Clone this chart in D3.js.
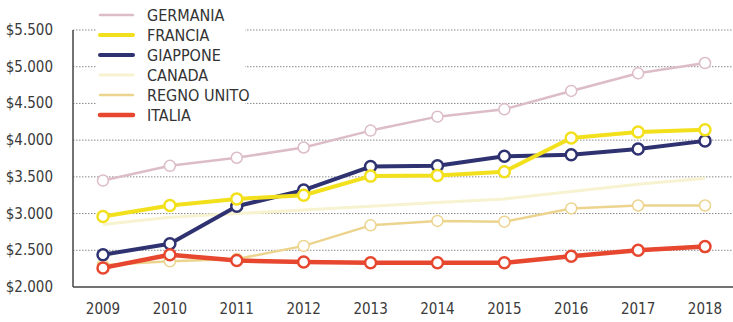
<!DOCTYPE html>
<html>
<head>
<meta charset="utf-8">
<script src="https://cdn.jsdelivr.net/npm/d3@7"></script>
<style>
  body { margin: 0; background: #fff; }
  #chart { width: 733px; height: 322px; }
</style>
</head>
<body>
<div id="chart"></div>
<script>
// Years on the x axis
const years = [2009, 2010, 2011, 2012, 2013, 2014, 2015, 2016, 2017, 2018];

// Values per country
const germania   = [3450, 3650, 3760, 3900, 4130, 4320, 4420, 4670, 4910, 5050];
const francia    = [2960, 3110, 3200, 3250, 3510, 3520, 3570, 4030, 4110, 4140];
const giappone   = [2440, 2590, 3100, 3320, 3640, 3650, 3780, 3800, 3880, 3990];
const canada     = [2850, 2950, 3000, 3050, 3100, 3150, 3200, 3300, 3400, 3480];
const regnoUnito = [2300, 2350, 2380, 2560, 2840, 2900, 2890, 3070, 3110, 3110];
const italia     = [2260, 2440, 2360, 2340, 2330, 2330, 2330, 2420, 2500, 2550];

const seriesNames = ["GERMANIA", "FRANCIA", "GIAPPONE", "CANADA", "REGNO UNITO", "ITALIA"];
const tickValues = [2000, 2500, 3000, 3500, 4000, 4500, 5000, 5500];

const width = 733;
const height = 322;
const margin = {left: 73, right: 0, top: 30, bottom: 35};

// Styles for each series (line colour, width, whether circles are drawn)
const styles = {
    "GERMANIA":    {color: "#dcbcc8", width: 2.5, dots: true},
    "FRANCIA":     {color: "#f3e01c", width: 4,   dots: true},
    "GIAPPONE":    {color: "#2f3270", width: 4,   dots: true},
    "CANADA":      {color: "#f7f2cf", width: 3,   dots: false},
    "REGNO UNITO": {color: "#ecd48e", width: 2.5, dots: true},
    "ITALIA":      {color: "#e6472e", width: 4.5, dots: true}
};

const values = [germania, francia, giappone, canada, regnoUnito, italia];
const series = seriesNames.map((name, i) => ({
    name: name,
    points: years.map((y, j) => ({year: y, value: values[i][j]}))
}));

const x = d3.scalePoint()
    .domain(years)
    .range([103, 705]);

const y = d3.scaleLinear()
    .domain([2000, 5500])
    .range([height - margin.bottom, margin.top]);

const fmt = v => "$" + d3.format(",")(v).replace(",", ".");

const svg = d3.select("#chart").append("svg")
    .attr("width", width)
    .attr("height", height)
    .attr("font-family", "'Liberation Sans Narrow', 'DejaVu Sans Condensed', 'Roboto', sans-serif");

// Dotted gridlines
svg.append("g")
    .selectAll("line")
    .data(tickValues.filter(d => d > 2000))
    .join("line")
    .attr("x1", margin.left)
    .attr("x2", width)
    .attr("y1", d => y(d))
    .attr("y2", d => y(d))
    .attr("stroke", "#8a8a8a")
    .attr("stroke-width", 1)
    .attr("stroke-dasharray", "1.5,1.5");

// Y axis labels
svg.append("g")
    .selectAll("text")
    .data(tickValues)
    .join("text")
    .attr("x", 53)
    .attr("y", d => y(d) + 5)
    .attr("text-anchor", "end")
    .attr("font-size", 15)
    .attr("fill", "#3a3a3a")
    .text(fmt);

// X axis labels
svg.append("g")
    .selectAll("text")
    .data(years)
    .join("text")
    .attr("x", d => x(d))
    .attr("y", 314)
    .attr("text-anchor", "middle")
    .attr("font-size", 15)
    .attr("fill", "#3a3a3a")
    .text(d => d);

// Axis lines
svg.append("line")
    .attr("x1", margin.left).attr("x2", margin.left)
    .attr("y1", y(5500)).attr("y2", y(2000))
    .attr("stroke", "#444").attr("stroke-width", 1.5);
svg.append("line")
    .attr("x1", margin.left).attr("x2", width)
    .attr("y1", y(2000)).attr("y2", y(2000))
    .attr("stroke", "#444").attr("stroke-width", 1.5);

// Lines
const line = d3.line()
    .x(d => x(d.year))
    .y(d => y(d.value));

const drawOrder = ["CANADA", "REGNO UNITO", "GERMANIA", "GIAPPONE", "FRANCIA", "ITALIA"];
drawOrder.forEach(name => {
    const s = series.find(d => d.name === name);
    const st = styles[name];
    svg.append("path")
        .datum(s.points)
        .attr("fill", "none")
        .attr("stroke", st.color)
        .attr("stroke-width", st.width)
        .attr("stroke-linejoin", "round")
        .attr("d", line);
    if (st.dots) {
        svg.append("g")
            .selectAll("circle")
            .data(s.points)
            .join("circle")
            .attr("cx", d => x(d.year))
            .attr("cy", d => y(d.value))
            .attr("r", 5.5)
            .attr("fill", "#fff")
            .attr("stroke", st.color)
            .attr("stroke-width", name === "GERMANIA" || name === "REGNO UNITO" ? 1.5 : 2.5);
    }
});

// Legend with white background
const legend = svg.append("g");
legend.append("rect")
    .attr("x", 97).attr("y", 4)
    .attr("width", 148).attr("height", 122)
    .attr("fill", "#fff");

const legendItems = legend.selectAll("g")
    .data(seriesNames)
    .join("g")
    .attr("transform", (d, i) => `translate(0, ${15 + i * 20})`);

legendItems.append("line")
    .attr("x1", 100).attr("x2", 133)
    .attr("y1", 0).attr("y2", 0)
    .attr("stroke", d => styles[d].color)
    .attr("stroke-width", d => styles[d].width)
    .attr("stroke-linecap", "round");

legendItems.append("text")
    .attr("x", 147)
    .attr("y", 6)
    .attr("font-size", 16)
    .attr("fill", "#333")
    .text(d => d);
</script>
</body>
</html>
